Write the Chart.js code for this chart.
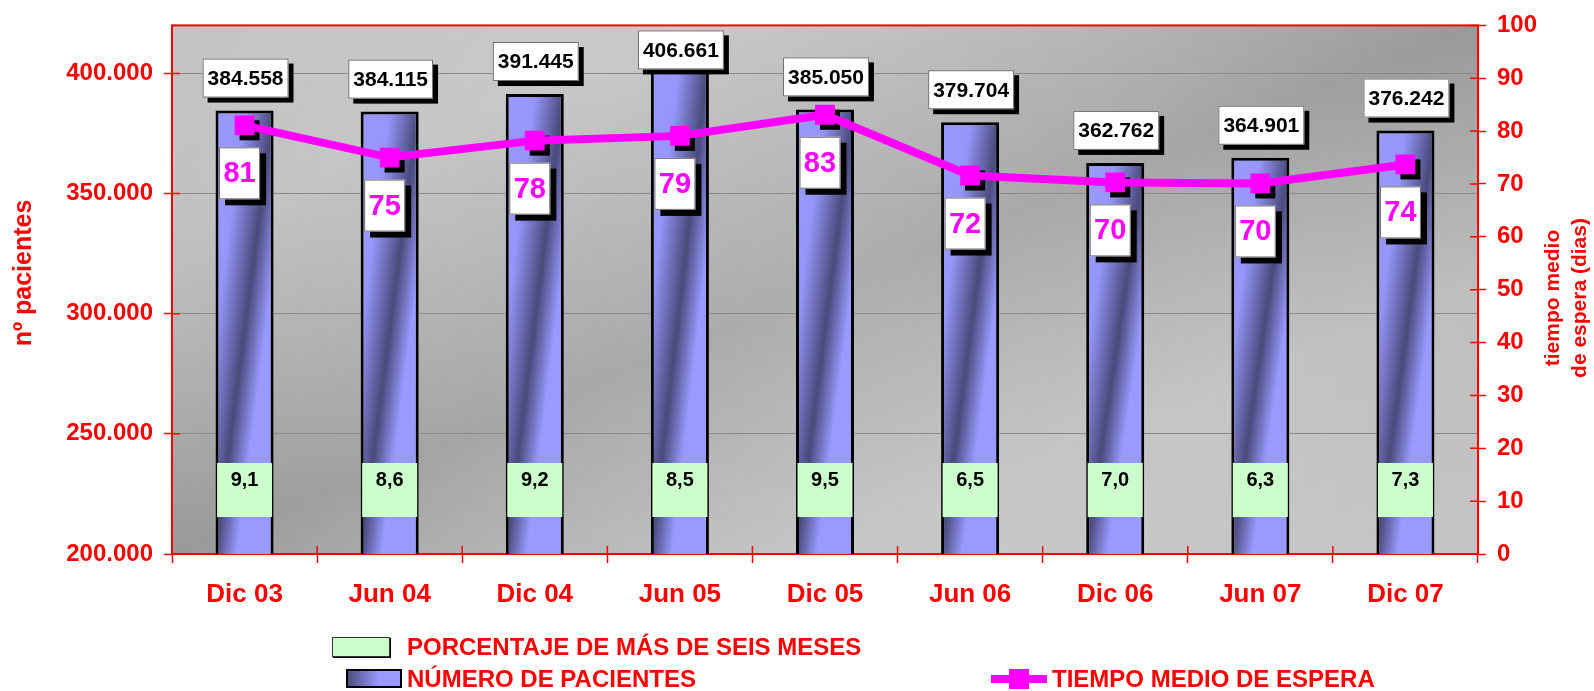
<!DOCTYPE html>
<html>
<head>
<meta charset="utf-8">
<script src="https://cdn.jsdelivr.net/npm/chart.js@4.4.0/dist/chart.umd.min.js"></script>
<style>
  body { margin: 0; background: #fff; }
  #wrap { position: relative; width: 1594px; height: 691px; }
  .leg { position: absolute; font-family: "Liberation Sans Narrow", "Arial Narrow", "Liberation Sans", sans-serif;
         font-weight: bold; font-size: 24px; line-height: 24px; color: #ff0000; white-space: nowrap; }
  .sw { position: absolute; box-sizing: border-box; }
</style>
</head>
<body>
<div id="wrap">
  <canvas id="myChart" width="1594" height="691"></canvas>
  <div class="sw" style="left:332px;top:637px;width:58px;height:20px;background:#ccffcc;border:1px solid #333;box-shadow:1px 1px 0 #000;"></div>
  <div class="leg" style="left:407px;top:635px;">PORCENTAJE DE MÁS DE SEIS MESES</div>
  <div class="sw" style="left:346px;top:669px;width:56px;height:19px;background:linear-gradient(to right,#4d4d80,#9999ff 60%,#9999ff);border:2px solid #000;"></div>
  <div class="leg" style="left:407px;top:667px;">NÚMERO DE PACIENTES</div>
  <div class="sw" style="left:991px;top:675px;width:56px;height:8px;background:#ff00ff;"></div>
  <div class="sw" style="left:1009px;top:669px;width:20px;height:20px;background:#ff00ff;"></div>
  <div class="leg" style="left:1052px;top:667px;">TIEMPO MEDIO DE ESPERA</div>
</div>
<script>
const labels = ["Dic 03", "Jun 04", "Dic 04", "Jun 05", "Dic 05", "Jun 06", "Dic 06", "Jun 07", "Dic 07"];
const pacientes = [384558, 384115, 391445, 406661, 385050, 379704, 362762, 364901, 376242];
const tiempoMedio = [81.1, 75.0, 78.2, 79.1, 83.1, 71.6, 70.3, 70.1, 73.7];
const porcentaje = [9.1, 8.6, 9.2, 8.5, 9.5, 6.5, 7.0, 6.3, 7.3];
const pacientesTicks = [200000, 250000, 300000, 350000, 400000];
const diasTicks = [0, 10, 20, 30, 40, 50, 60, 70, 80, 90, 100];
const pacientesMin = 200000, pacientesMax = 420000;
const diasMin = 0, diasMax = 100;

const FONT = "'Liberation Sans', Arial, sans-serif";
const RED = "#ff0000";
const MAGENTA = "#ff00ff";

const fmtMiles = (v) => String(Math.round(v)).replace(/\B(?=(\d{3})+(?!\d))/g, ".");
const fmtDec = (v) => v.toFixed(1).replace(".", ",");

// gradient whose stripes follow the box diagonal (like the office fill)
function diagGrad(ctx, l, t, w, h, stops) {
  const k = 2 / (1 / (w * w) + 1 / (h * h));
  const g = ctx.createLinearGradient(l, t, l + k / w, t + k / h);
  stops.forEach(([p, c]) => g.addColorStop(p, c));
  return g;
}
const bgStops = [[0, "#c4c4c4"], [0.2, "#c0c0c0"], [0.5, "#999999"], [0.75, "#bdbdbd"], [1, "#c4c4c4"]];
const barStops = [[0, "#9999ff"], [0.25, "#9696fa"], [0.5, "#4a4a7c"], [0.68, "#9999ff"], [1, "#9999ff"]];

function shadowBox(ctx, x, y, w, h, off) {
  ctx.fillStyle = "#000";
  ctx.fillRect(x + off, y + off, w, h);
  ctx.fillStyle = "#fff";
  ctx.fillRect(x, y, w, h);
  ctx.strokeStyle = "#6e6e6e";
  ctx.lineWidth = 1;
  ctx.strokeRect(x + 0.5, y + 0.5, w - 1, h - 1);
}

const decor = {
  id: "decor",
  beforeDraw(chart) {
    const { ctx, chartArea: a } = chart;
    const w = a.right - a.left, h = a.bottom - a.top;
    ctx.save();
    ctx.fillStyle = diagGrad(ctx, a.left, a.top, w, h, bgStops);
    ctx.fillRect(a.left, a.top, w, h);
    // lighter middle, the corners keep their tone
    const cx = a.left + w / 2, cy = a.top + h / 2, r = Math.hypot(w, h) / 2;
    const glow = ctx.createRadialGradient(cx, cy, 0, cx, cy, r);
    glow.addColorStop(0, "rgba(255,255,255,0.2)");
    glow.addColorStop(0.55, "rgba(255,255,255,0.12)");
    glow.addColorStop(1, "rgba(255,255,255,0)");
    ctx.fillStyle = glow;
    ctx.fillRect(a.left, a.top, w, h);
    ctx.restore();
  },
  beforeDatasetsDraw(chart) {
    const { ctx, chartArea: a, scales } = chart;
    ctx.save();
    ctx.strokeStyle = RED;
    ctx.lineWidth = 2;
    ctx.strokeRect(a.left, a.top, a.right - a.left, a.bottom - a.top);
    // inner half of the crossing tick marks
    ctx.lineWidth = 1.5;
    ctx.beginPath();
    scales.y.ticks.forEach((t) => {
      const py = scales.y.getPixelForValue(t.value);
      ctx.moveTo(a.left, py); ctx.lineTo(a.left + 8, py);
    });
    scales.y1.ticks.forEach((t) => {
      const py = scales.y1.getPixelForValue(t.value);
      ctx.moveTo(a.right - 8, py); ctx.lineTo(a.right, py);
    });
    const cw = (a.right - a.left) / labels.length;
    for (let i = 0; i <= labels.length; i++) {
      const px = a.left + i * cw;
      ctx.moveTo(px, a.bottom - 8); ctx.lineTo(px, a.bottom);
    }
    ctx.stroke();
    ctx.restore();
  },
  afterDatasetDraw(chart, args) {
    if (args.index !== 0) return;
    // marker shadows sit above the bars but under the line
    const { ctx } = chart;
    ctx.save();
    ctx.fillStyle = "#000";
    chart.getDatasetMeta(1).data.forEach((p) => ctx.fillRect(p.x - 5, p.y - 5, 20, 20));
    ctx.restore();
  },
  afterDatasetsDraw(chart) {
    const { ctx, chartArea: a } = chart;
    const bars = chart.getDatasetMeta(0).data;
    const pts = chart.getDatasetMeta(1).data;
    ctx.save();
    ctx.textAlign = "center";
    ctx.textBaseline = "middle";

    // patient count boxes
    ctx.font = "bold 21px " + FONT;
    bars.forEach((b, i) => {
      const txt = fmtMiles(pacientes[i]);
      const w = ctx.measureText(txt).width + 10, h = 39;
      const top = Math.max(b.y - 13 - h, a.top + 5);
      const left = b.x + 1 - w / 2;
      shadowBox(ctx, left, top, w, h, 5);
      ctx.font = "bold 21px " + FONT;
      ctx.fillStyle = "#000";
      ctx.fillText(txt, b.x + 1, top + h / 2 + 1);
    });

    // percentage boxes
    bars.forEach((b, i) => {
      const w = 55, h = 54, top = a.bottom - 91;
      ctx.fillStyle = "#ccffcc";
      ctx.fillRect(b.x - w / 2, top, w, h);
      ctx.font = "bold 20px " + FONT;
      ctx.fillStyle = "#000";
      ctx.fillText(fmtDec(porcentaje[i]), b.x, top + 17);
    });

    // waiting time boxes
    pts.forEach((p, i) => {
      const w = 41, h = 52, left = p.x - 5 - w / 2, top = p.y + 22;
      shadowBox(ctx, left, top, w, h, 6);
      ctx.font = "bold 29px " + FONT;
      ctx.fillStyle = MAGENTA;
      ctx.fillText(String(Math.round(tiempoMedio[i])), left + w / 2, top + h / 2 + 1);
    });

    // axis titles
    ctx.fillStyle = RED;
    ctx.font = "bold 25px " + FONT;
    ctx.save();
    ctx.translate(24, 273);
    ctx.rotate(-Math.PI / 2);
    ctx.fillText("nº pacientes", 0, 0);
    ctx.restore();
    ctx.font = "bold 21px " + FONT;
    ctx.save();
    ctx.translate(1553, 298);
    ctx.rotate(-Math.PI / 2);
    ctx.fillText("tiempo medio", 0, 0);
    ctx.fillText("de espera (dias)", 0, 27);
    ctx.restore();
    ctx.restore();
  }
};

const ctx = document.getElementById("myChart");

new Chart(ctx, {
  data: {
    labels: labels,
    datasets: [
      {
        type: "bar",
        label: "NÚMERO DE PACIENTES",
        data: pacientes,
        yAxisID: "y",
        order: 1,
        borderColor: "#000",
        borderWidth: 3,
        categoryPercentage: 1,
        barPercentage: 0.4,
        backgroundColor: (c) => {
          const chart = c.chart;
          if (!chart.chartArea || c.type !== "data") return "#9999ff";
          const xs = chart.scales.x, ys = chart.scales.y;
          const cx = xs.getPixelForValue(c.dataIndex);
          const w = (xs.width / labels.length) * 0.4;
          const top = ys.getPixelForValue(c.raw);
          const bottom = ys.getPixelForValue(ys.min);
          return diagGrad(chart.ctx, cx - w / 2, top, w, bottom - top, barStops);
        },
      },
      {
        type: "line",
        label: "TIEMPO MEDIO DE ESPERA",
        data: tiempoMedio,
        yAxisID: "y1",
        order: 0,
        borderColor: MAGENTA,
        borderWidth: 8,
        tension: 0,
        fill: false,
        pointStyle: "rect",
        pointRadius: 14,
        pointHoverRadius: 14,
        pointBorderWidth: 0,
        pointBackgroundColor: MAGENTA,
      },
    ],
  },
  options: {
    responsive: false,
    animation: false,
    devicePixelRatio: 1,
    layout: { padding: { top: 22, left: 0, right: 0, bottom: 0 } },
    plugins: {
      legend: { display: false },
      tooltip: { enabled: false },
    },
    scales: {
      x: {
        offset: true,
        afterFit: (s) => { s.height = 137; },
        grid: { offset: true, drawOnChartArea: false, tickColor: RED, tickLength: 9, tickWidth: 1.5 },
        border: { display: false },
        ticks: { color: RED, font: { family: FONT, size: 26, weight: "bold" }, padding: 16 },
      },
      y: {
        position: "left",
        min: pacientesMin,
        max: pacientesMax,
        afterFit: (s) => { s.width = 172; },
        afterBuildTicks: (s) => { s.ticks = pacientesTicks.map((v) => ({ value: v })); },
        grid: { color: "#8a8a8a", lineWidth: 1, tickColor: RED, tickLength: 8, tickWidth: 1.5 },
        border: { display: false },
        ticks: {
          color: RED,
          padding: 11,
          font: { family: FONT, size: 24, weight: "bold" },
          callback: (v) => fmtMiles(v),
        },
      },
      y1: {
        position: "right",
        min: diasMin,
        max: diasMax,
        afterFit: (s) => { s.width = 116; },
        afterBuildTicks: (s) => { s.ticks = diasTicks.map((v) => ({ value: v })); },
        grid: { drawOnChartArea: false, tickColor: RED, tickLength: 8, tickWidth: 1.5 },
        border: { display: false },
        ticks: {
          color: RED,
          padding: 11,
          font: { family: FONT, size: 24, weight: "bold" },
        },
      },
    },
  },
  plugins: [decor],
});
</script>
</body>
</html>
